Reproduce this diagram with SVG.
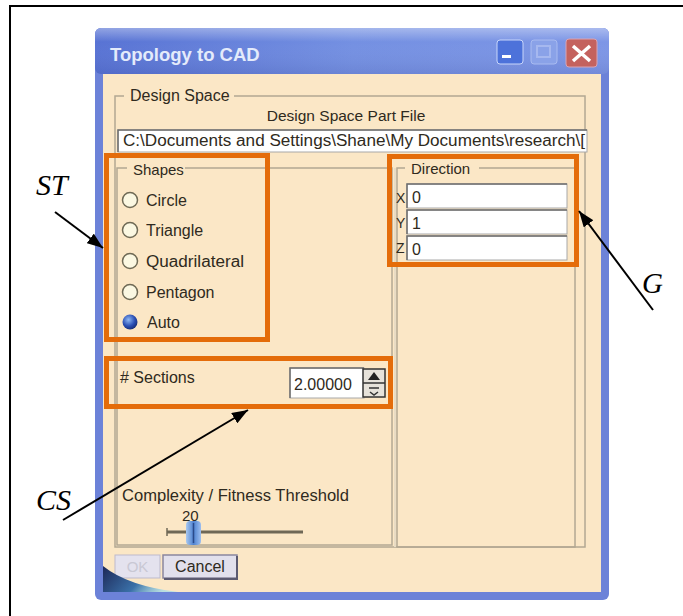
<svg xmlns="http://www.w3.org/2000/svg" width="683" height="616" viewBox="0 0 683 616">
<style>
.ui{font-family:"Liberation Sans",Arial,sans-serif;font-size:16px;fill:#2f2a20}
.lbl{font-family:"Liberation Serif","Times New Roman",serif;font-style:italic;font-size:30px;fill:#000}
.grp{fill:none;stroke:#b3a893;stroke-width:1.5}
.hl{fill:none;stroke:#e46c0a;stroke-width:5}
.radio{fill:#fbf8e2;stroke:#6f6a55;stroke-width:1.5}
.field{fill:#ffffff;stroke:#a8a8a8;stroke-width:1}
.sunk{fill:none;stroke:#6e6e6e;stroke-width:1.5}
.conn{stroke:#000;stroke-width:2;fill:none}
</style>
<defs>
<linearGradient id="tb" x1="0" y1="0" x2="1" y2="0">
<stop offset="0" stop-color="#5873d4"/>
<stop offset="0.5" stop-color="#7490e2"/>
<stop offset="1" stop-color="#7d96e6"/>
</linearGradient>
<linearGradient id="tbv" x1="0" y1="0" x2="0" y2="1">
<stop offset="0" stop-color="#ffffff" stop-opacity="0.35"/>
<stop offset="0.3" stop-color="#ffffff" stop-opacity="0"/>
<stop offset="1" stop-color="#000040" stop-opacity="0.08"/>
</linearGradient>
<radialGradient id="auto" cx="0.4" cy="0.35" r="0.7">
<stop offset="0" stop-color="#8fb8f4"/>
<stop offset="0.6" stop-color="#2a4fb4"/>
<stop offset="1" stop-color="#152a70"/>
</radialGradient>
<linearGradient id="thumb" x1="0" y1="0" x2="1" y2="0">
<stop offset="0" stop-color="#a8c8f0"/>
<stop offset="0.5" stop-color="#4f82d0"/>
<stop offset="1" stop-color="#9cbef0"/>
</linearGradient>
<linearGradient id="swoosh" x1="0" y1="0" x2="1" y2="0.3">
<stop offset="0" stop-color="#1d2858"/>
<stop offset="0.6" stop-color="#3a70a8"/>
<stop offset="1" stop-color="#8fd8f0" stop-opacity="0.6"/>
</linearGradient>
<clipPath id="pathclip"><rect x="119" y="131" width="467" height="20"/></clipPath>
<clipPath id="secclip"><rect x="291" y="369" width="72" height="28"/></clipPath>
<marker id="ah" viewBox="0 0 16 12" refX="16" refY="6" markerWidth="16" markerHeight="12" markerUnits="userSpaceOnUse" orient="auto">
<path d="M0,0 L16,6 L0,12 Z" fill="#000"/>
</marker>
</defs>

<rect width="683" height="616" fill="#ffffff"/>
<g id="frame">
<path d="M10,616 V6 H683" fill="none" stroke="#000" stroke-width="2"/>
</g>

<g id="window">
<rect x="95" y="28" width="514" height="572" rx="6" fill="#6c82d8"/>
<rect x="95" y="28" width="514" height="46" rx="6" fill="url(#tb)"/>
<rect x="95" y="28" width="514" height="46" rx="6" fill="url(#tbv)"/>
<rect x="103" y="74" width="498" height="518" fill="#fbe7c6"/>
<text x="110" y="61" style="font-family:'Liberation Sans',Arial,sans-serif;font-weight:bold;font-size:18.5px;fill:#e4ebfb">Topology to CAD</text>
</g>

<g id="title-buttons">
<rect x="497" y="40" width="26" height="24" rx="3" fill="#4d72da" stroke="#c9d6fa" stroke-width="1"/>
<rect x="502" y="55" width="9" height="3" fill="#ffffff"/>
<rect x="531" y="40" width="26" height="24" rx="3" fill="#8aa2e8" stroke="#a9bbf0" stroke-width="1"/>
<rect x="537" y="46" width="13" height="11" fill="none" stroke="#a6b8ef" stroke-width="2"/>
<rect x="566" y="39" width="31" height="28" rx="3" fill="#c4625e" stroke="#d9a4b4" stroke-width="1"/>
<path d="M573,46 L590,61 M590,46 L573,61" stroke="#ffffff" stroke-width="3.5"/>
</g>

<g id="design-space">
<rect class="grp" x="115" y="96" width="470" height="451"/>
<rect x="124" y="88" width="110" height="16" fill="#fbe7c6"/>
<text class="ui" x="130" y="101">Design Space</text>
<text class="ui" x="346" y="121" text-anchor="middle" style="font-size:15.5px">Design Space Part File</text>
<rect class="field" x="118" y="130" width="469" height="22"/>
<path d="M118,152 V130 H587" class="sunk"/>
<text class="ui" x="123" y="146" clip-path="url(#pathclip)" textLength="462" lengthAdjust="spacingAndGlyphs">C:\Documents and Settings\Shane\My Documents\research\[</text>
</g>

<g id="shapes">
<rect class="grp" x="117" y="168" width="275" height="377"/>
<line x1="395" y1="168" x2="395" y2="547" stroke="#e9dcc4" stroke-width="2"/>
<rect x="127" y="160" width="58" height="16" fill="#fbe7c6"/>
<text class="ui" x="133" y="175" style="font-size:15px">Shapes</text>
<circle class="radio" cx="130" cy="200" r="7.5"/>
<text class="ui" x="146" y="206">Circle</text>
<circle class="radio" cx="130" cy="230" r="7.5"/>
<text class="ui" x="146" y="236">Triangle</text>
<circle class="radio" cx="130" cy="261" r="7.5"/>
<text class="ui" x="146" y="267" textLength="98" lengthAdjust="spacingAndGlyphs">Quadrilateral</text>
<circle class="radio" cx="130" cy="292" r="7.5"/>
<text class="ui" x="146" y="298">Pentagon</text>
<circle cx="130" cy="322" r="7.5" fill="url(#auto)"/>
<text class="ui" x="147" y="328">Auto</text>
</g>

<g id="direction">
<rect class="grp" x="397" y="168" width="178" height="379"/>
<rect x="405" y="160" width="74" height="16" fill="#fbe7c6"/>
<text class="ui" x="411" y="174" style="font-size:15px">Direction</text>
<text class="ui" x="396" y="203" style="font-size:14px">X</text>
<rect class="field" x="407" y="184" width="160" height="24"/>
<path d="M407,208 V184 H567" class="sunk"/>
<text class="ui" x="412" y="203">0</text>
<text class="ui" x="396" y="228" style="font-size:14px">Y</text>
<rect class="field" x="407" y="210" width="160" height="24"/>
<path d="M407,234 V210 H567" class="sunk"/>
<text class="ui" x="412" y="229">1</text>
<text class="ui" x="396" y="253" style="font-size:14px">Z</text>
<rect class="field" x="407" y="236" width="160" height="24"/>
<path d="M407,260 V236 H567" class="sunk"/>
<text class="ui" x="412" y="255">0</text>
</g>

<g id="sections">
<text class="ui" x="120" y="383">#  Sections</text>
<rect class="field" x="290" y="368" width="74" height="30" stroke="#999"/>
<path d="M290,398 V368 H364" class="sunk"/>
<text class="ui" x="294" y="390" clip-path="url(#secclip)">2.00000</text>
<rect x="363" y="369" width="22" height="28" fill="#e6e2da" stroke="#333" stroke-width="1.5"/>
<line x1="363" y1="383" x2="385" y2="383" stroke="#333" stroke-width="1.5"/>
<path d="M374,372 L368,380 L380,380 Z" fill="#222"/>
<path d="M369,388 H379 M370,392 L374,395 L378,392" stroke="#333" stroke-width="1.5" fill="none"/>
</g>

<g id="complexity">
<text class="ui" x="122" y="501" textLength="227" lengthAdjust="spacingAndGlyphs">Complexity / Fitness Threshold</text>
<text class="ui" x="182" y="521" style="font-size:15px">20</text>
<line x1="167" y1="532" x2="303" y2="532" stroke="#6f6856" stroke-width="3"/>
<line x1="167" y1="528" x2="167" y2="536" stroke="#6f6856" stroke-width="1.5"/>
<rect x="186" y="521" width="15" height="24" rx="4" fill="url(#thumb)"/>
<line x1="193.5" y1="523" x2="193.5" y2="543" stroke="#2a4a8a" stroke-width="1.5"/>
</g>

<g id="dialog-buttons">
<rect x="115" y="555" width="45" height="23" fill="#e4e2ee" stroke="#bdbacc" stroke-width="1"/>
<text class="ui" x="137.5" y="572" text-anchor="middle" style="fill:#c9c8d4;font-size:15px">OK</text>
<rect x="163" y="555" width="74" height="23" fill="#e2e0ec" stroke="#8a879e" stroke-width="1.5"/>
<path d="M237,556 V579 H164" stroke="#5c5a70" stroke-width="2" fill="none"/>
<text class="ui" x="200" y="572" text-anchor="middle">Cancel</text>
<path d="M103,566 Q128,586 178,592 L103,592 Z" fill="url(#swoosh)"/>
</g>

<g id="highlights">
<rect id="box-ST" class="hl" x="106.5" y="155.5" width="161" height="184"/>
<rect id="box-G" class="hl" x="389.5" y="156.5" width="187" height="108"/>
<rect id="box-CS" class="hl" x="106.5" y="358.5" width="284" height="48"/>
</g>

<g id="labels">
<text class="lbl" x="36" y="195">ST</text>
<text class="lbl" x="36" y="510">CS</text>
<text class="lbl" x="642" y="293" style="font-size:29px">G</text>
</g>

<g id="connectors">
<line class="conn" x1="55" y1="212" x2="103" y2="248" marker-end="url(#ah)"/>
<line class="conn" x1="63" y1="520" x2="248" y2="410" marker-end="url(#ah)"/>
<line class="conn" x1="653" y1="310" x2="579" y2="211" marker-end="url(#ah)"/>
</g>
</svg>
